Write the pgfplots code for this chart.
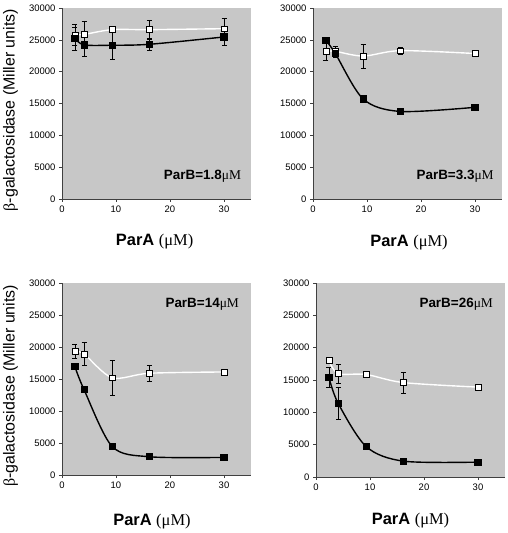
\documentclass[border=0pt]{standalone}
\usepackage{pgfplots}
\pgfplotsset{compat=1.18}
\usepackage{fontspec}
\setmainfont{Liberation Sans}
\newfontfamily\tms{Liberation Serif}

\pgfplotsset{
 panel/.style={
   scale only axis, width=189bp, height=191bp,
   xmin=0,xmax=35,ymin=0,ymax=30000,
   xtick={0,10,20,30}, ytick={0,5000,...,30000},
   axis x line*=bottom, axis y line*=left,
   axis line style={black!75, line width=0.6pt},
   tick style={black!75, line width=0.6pt},
   tick align=outside, major tick length=3bp,
   axis background/.style={fill=black!22},
   scaled y ticks=false,
   /pgf/number format/assume math mode=true,
   yticklabel style={/pgf/number format/fixed,/pgf/number format/1000 sep={}, font=\fontsize{9.5}{10}\selectfont},
   xticklabel style={font=\fontsize{9.5}{10}\selectfont},
   every axis x label/.style={at={(axis description cs:0.49,-0.225)}, anchor=center},
   every axis y label/.style={at={(axis description cs:-0.272,0.465)}, anchor=center, rotate=90},
   xlabel={\fontsize{16.5}{18}\selectfont\bfseries ParA {\mdseries\tms(μM)}},
 },
 wht/.style={white, line width=1.4pt, smooth, mark=square*, mark size=2.9bp,
   mark options={solid, fill=white, draw=black, line width=0.5pt},
   error bars/.cd, y dir=both, y explicit,
   error bar style={black,line width=0.6pt},
   error mark options={rotate=90, mark size=2.5bp, black, line width=0.6pt}},
 blk/.style={black, line width=1.4pt, smooth, mark=square*, mark size=2.9bp,
   mark options={solid, fill=black, draw=black},
   error bars/.cd, y dir=both, y explicit,
   error bar style={black,line width=0.6pt},
   error mark options={rotate=90, mark size=2.5bp, black, line width=0.6pt}},
}
\newcommand{\ylab}{\fontsize{16}{18}\selectfont{\tms β}-galactosidase (Miller units)}
\newcommand{\parb}[1]{\fontsize{13.5}{15}\selectfont\bfseries ParB=#1{\mdseries\tms μM}}

\begin{document}
\begin{tikzpicture}
\useasboundingbox (0,0) rectangle (508bp,533bp);

% Panel 1
\begin{axis}[panel, at={(62bp,334bp)}, anchor=south west, ylabel={\ylab}]
\addplot+[wht] table[x=x,y=y,y error=e] {
x y e
2.4 25800 1600
4.1 25850 2000
9.3 26600 400
16.2 26600 1500
30 26750 1700
};
\addplot+[blk] table[x=x,y=y,y error=e] {
x y e
2.4 25200 1800
4.1 24200 1800
9.3 24150 2200
16.2 24300 900
30 25450 1300
};
\node[anchor=base east, inner sep=0pt] at (axis cs:33.2,3000) {\parb{1.8}};
\end{axis}

% Panel 2
\begin{axis}[panel, at={(313bp,334bp)}, anchor=south west,
  every axis x label/.style={at={(axis description cs:0.508,-0.23)}, anchor=center}]
\addplot+[wht] table[x=x,y=y,y error=e] {
x y e
2.4 23200 1400
4.1 23200 800
9.3 22450 1900
16.2 23300 500
30 22850 500
};
\addplot+[blk] table[x=x,y=y,y error=e] {
x y e
2.4 24900 300
4.1 22900 600
9.3 15700 500
16.2 13750 300
30 14400 400
};
\node[anchor=base east, inner sep=0pt] at (axis cs:33.5,3000) {\parb{3.3}};
\end{axis}

% Panel 3
\begin{axis}[panel, at={(62bp,58bp)}, anchor=south west, height=192bp, ylabel={\ylab},
  every axis x label/.style={at={(axis description cs:0.476,-0.24)}, anchor=center},
  every axis y label/.style={at={(axis description cs:-0.272,0.464)}, anchor=center, rotate=90}]
\addplot+[wht] table[x=x,y=y,y error=e] {
x y e
2.4 19300 1100
4.1 18900 1800
9.3 15200 2700
16.2 15900 1250
30 16100 200
};
\addplot+[blk] table[x=x,y=y,y error=e] {
x y e
2.4 16900 300
4.1 13300 400
9.3 4450 200
16.2 2850 200
30 2750 200
};
\node[anchor=base east, inner sep=0pt] at (axis cs:32.8,26100) {\parb{14}};
\end{axis}

% Panel 4
\begin{axis}[panel, at={(316bp,56bp)}, anchor=south west, height=194bp,
  every axis x label/.style={at={(axis description cs:0.50,-0.227)}, anchor=center}]
\addplot+[wht] table[x=x,y=y,y error=e] {
x y e
2.4 18000 300
4.1 16000 1500
9.3 15850 300
16.2 14600 1650
30 13900 400
};
\addplot+[blk] table[x=x,y=y,y error=e] {
x y e
2.4 15400 1600
4.1 11400 2400
9.3 4700 200
16.2 2450 200
30 2300 200
};
\node[anchor=base east, inner sep=0pt] at (axis cs:32.8,26170) {\parb{26}};
\end{axis}
\end{tikzpicture}
\end{document}
